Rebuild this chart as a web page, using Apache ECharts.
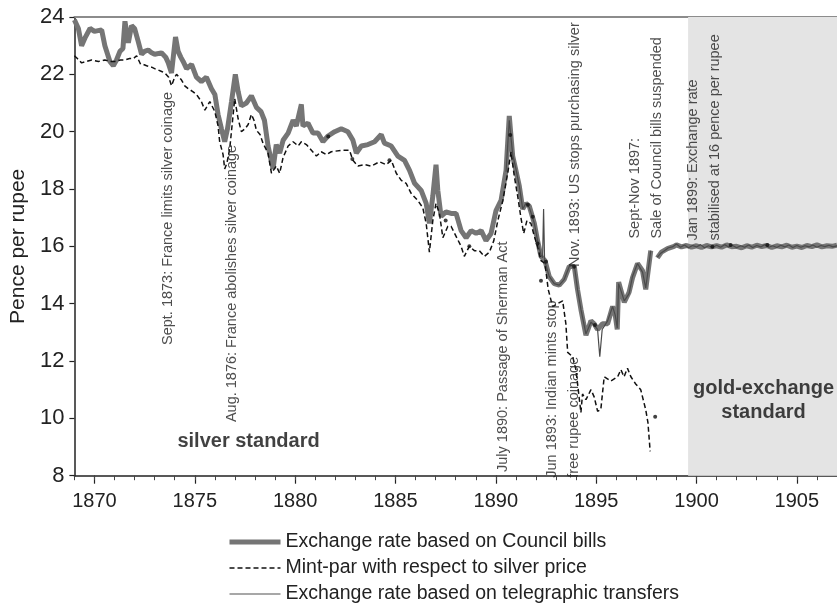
<!DOCTYPE html>
<html>
<head>
<meta charset="utf-8">
<script src="https://cdn.jsdelivr.net/npm/echarts@6/dist/echarts.min.js"></script>
<style>
  html, body { margin: 0; padding: 0; background: #fff; }
  #chart { width: 837px; height: 608px; }
</style>
</head>
<body>
<div id="chart"></div>
<script>
// exchange rate based on Council bills [year, pence]
const councilBills = [
  [1869.0, 23.9], [1869.2, 23.6], [1869.36, 23.0], [1869.55, 23.3], [1869.78, 23.6], [1870.0, 23.5],
  [1870.36, 23.55], [1870.52, 23.0], [1870.77, 22.45], [1870.94, 22.3], [1871.1, 22.5], [1871.27, 22.8],
  [1871.42, 22.9], [1871.52, 23.85], [1871.69, 23.1], [1871.85, 23.7], [1872.0, 23.6], [1872.18, 23.15],
  [1872.35, 22.7], [1872.5, 22.8], [1872.68, 22.85], [1872.85, 22.75], [1873.0, 22.7], [1873.34, 22.75],
  [1873.55, 22.6], [1873.68, 22.4], [1873.84, 22.05], [1874.04, 23.3], [1874.17, 22.8], [1874.3, 22.6],
  [1874.42, 22.45], [1874.59, 22.2], [1874.84, 22.35], [1875.08, 21.9], [1875.33, 21.75], [1875.58, 21.9],
  [1875.83, 21.5], [1876.0, 21.3], [1876.16, 20.6], [1876.33, 20.1], [1876.49, 19.65], [1876.63, 20.1],
  [1876.83, 21.05], [1877.02, 22.0], [1877.16, 21.4], [1877.32, 20.9], [1877.57, 21.0], [1877.82, 21.25],
  [1878.07, 20.85], [1878.3, 20.7], [1878.47, 20.4], [1878.65, 19.5], [1878.9, 18.7], [1879.06, 19.55],
  [1879.23, 19.25], [1879.4, 19.7], [1879.65, 19.95], [1879.9, 20.4], [1880.06, 20.2], [1880.31, 20.95],
  [1880.39, 20.2], [1880.64, 20.3], [1880.89, 19.95], [1881.14, 19.95], [1881.39, 19.65], [1881.64, 19.85],
  [1881.97, 20.0], [1882.3, 20.1], [1882.63, 20.0], [1882.88, 19.7], [1883.05, 19.25], [1883.3, 19.5],
  [1883.63, 19.55], [1883.96, 19.65], [1884.29, 19.9], [1884.45, 19.6], [1884.79, 19.5], [1885.12, 19.15],
  [1885.45, 19.0], [1885.7, 18.65], [1885.95, 18.2], [1886.28, 17.95], [1886.53, 17.5], [1886.69, 16.8],
  [1886.86, 17.75], [1887.02, 18.85], [1887.11, 17.95], [1887.27, 17.05], [1887.52, 17.2], [1887.77, 17.15],
  [1888.02, 17.15], [1888.27, 16.55], [1888.52, 16.3], [1888.77, 16.55], [1889.02, 16.45], [1889.27, 16.55],
  [1889.51, 16.2], [1889.76, 16.45], [1890.01, 17.25], [1890.26, 17.6], [1890.51, 18.65], [1890.67, 20.55],
  [1890.84, 19.15], [1891.0, 18.65], [1891.17, 18.1], [1891.34, 17.3], [1891.5, 17.5], [1891.67, 17.4],
  [1891.92, 16.8], [1892.08, 16.2], [1892.25, 15.65], [1892.45, 15.5], [1892.66, 14.95], [1892.91, 14.7],
  [1893.16, 14.65], [1893.41, 14.85], [1893.66, 15.3], [1893.91, 15.3], [1894.07, 14.5], [1894.24, 13.8],
  [1894.49, 12.9], [1894.74, 13.4], [1894.9, 13.3], [1895.07, 13.1], [1895.32, 13.3], [1895.57, 13.3],
  [1895.82, 13.9], [1895.95, 13.6], [1896.05, 13.1], [1896.12, 14.75], [1896.4, 14.05], [1896.64, 14.4],
  [1896.81, 14.9], [1897.06, 15.4], [1897.31, 15.15], [1897.47, 14.5], [1897.72, 15.85], [1897.85, null],
  [1898.05, 15.6], [1898.25, 15.8], [1898.55, 15.92], [1898.88, 16.0], [1899.0, 16.05], [1899.25, 15.98],
  [1899.5, 16.03], [1899.75, 15.97], [1900.0, 16.02], [1900.25, 15.96], [1900.5, 16.03], [1900.75, 15.98],
  [1901.0, 16.02], [1901.25, 15.97], [1901.5, 16.05], [1901.75, 15.99], [1902.0, 16.0], [1902.25, 15.95],
  [1902.5, 16.02], [1902.75, 15.97], [1903.0, 16.04], [1903.25, 15.99], [1903.5, 16.03], [1903.75, 15.96],
  [1904.0, 16.02], [1904.25, 15.98], [1904.5, 16.04], [1904.75, 15.97], [1905.0, 16.01], [1905.25, 15.96],
  [1905.5, 16.03], [1905.75, 15.99], [1906.0, 16.05], [1906.25, 15.98], [1906.5, 16.02], [1906.75, 16.0],
  [1907.0, 16.04]
];

// mint-par with respect to silver price
const mintPar = [
  [1869.0, 22.65], [1869.15, 22.55], [1869.36, 22.4], [1869.6, 22.45], [1869.86, 22.5], [1870.2, 22.45],
  [1870.52, 22.5], [1870.8, 22.45], [1871.02, 22.45], [1871.3, 22.5], [1871.52, 22.5], [1871.75, 22.55],
  [1871.94, 22.55], [1872.1, 22.65], [1872.18, 22.6], [1872.3, 22.35], [1872.43, 22.35], [1872.6, 22.3],
  [1872.85, 22.25], [1873.0, 22.2], [1873.18, 22.15], [1873.35, 22.1], [1873.51, 22.05], [1873.7, 21.9],
  [1873.84, 21.6], [1874.0, 21.9], [1874.09, 22.0], [1874.34, 21.8], [1874.5, 21.6], [1874.67, 21.5],
  [1874.9, 21.4], [1875.08, 21.3], [1875.33, 21.05], [1875.5, 20.75], [1875.75, 21.05], [1876.0, 20.7],
  [1876.16, 20.2], [1876.24, 19.65], [1876.41, 19.2], [1876.49, 18.7], [1876.6, 18.9], [1876.74, 19.4],
  [1876.99, 21.15], [1877.16, 20.45], [1877.32, 20.0], [1877.5, 20.1], [1877.66, 20.25], [1877.82, 20.6],
  [1877.95, 20.4], [1878.07, 20.05], [1878.25, 19.9], [1878.4, 19.6], [1878.65, 19.25], [1878.82, 18.55],
  [1879.06, 18.8], [1879.23, 18.55], [1879.4, 19.1], [1879.65, 19.5], [1879.9, 19.65], [1880.15, 19.5],
  [1880.31, 19.65], [1880.56, 19.55], [1880.81, 19.35], [1881.06, 19.15], [1881.3, 19.3], [1881.55, 19.2],
  [1881.8, 19.3], [1882.3, 19.35], [1882.71, 19.35], [1882.88, 19.0], [1883.13, 18.8], [1883.46, 18.85],
  [1883.79, 18.8], [1884.2, 18.95], [1884.54, 18.85], [1884.79, 19.0], [1885.04, 18.55], [1885.29, 18.3],
  [1885.53, 18.2], [1885.78, 17.85], [1886.11, 17.6], [1886.36, 17.35], [1886.53, 16.8], [1886.69, 15.8],
  [1886.86, 16.9], [1887.02, 17.5], [1887.19, 17.15], [1887.36, 16.3], [1887.61, 16.7], [1887.77, 16.7],
  [1888.02, 16.35], [1888.27, 16.0], [1888.43, 15.65], [1888.68, 16.0], [1888.93, 15.85], [1889.18, 15.85],
  [1889.43, 15.65], [1889.68, 15.8], [1889.9, 16.2], [1890.1, 16.9], [1890.35, 17.6], [1890.59, 18.55],
  [1890.76, 19.3], [1890.92, 18.45], [1891.09, 17.75], [1891.25, 17.0], [1891.39, 16.45], [1891.55, 16.9],
  [1891.75, 16.8], [1891.92, 16.35], [1892.08, 16.0], [1892.25, 15.5], [1892.45, 15.4], [1892.61, 14.5],
  [1892.83, 13.9], [1893.08, 14.0], [1893.33, 14.1], [1893.49, 13.3], [1893.58, 12.3], [1893.83, 12.15],
  [1893.99, 11.7], [1894.24, 10.2], [1894.32, 10.85], [1894.49, 10.65], [1894.74, 11.0], [1894.9, 10.75],
  [1895.07, 10.25], [1895.23, 10.3], [1895.4, 11.45], [1895.73, 11.3], [1896.07, 11.45], [1896.23, 11.7],
  [1896.39, 11.45], [1896.56, 11.75], [1896.73, 11.45], [1896.97, 11.2], [1897.22, 11.0], [1897.47, 10.3],
  [1897.58, 9.85], [1897.69, 8.85]
];

// exchange rate based on telegraphic transfers
const telegraphic = [
  [1890.51, 18.6], [1890.67, 20.4], [1890.84, 19.2], [1891.0, 18.7], [1891.17, 18.1], [1891.34, 17.3],
  [1891.5, 17.5], [1891.67, 17.35], [1891.92, 16.8], [1892.08, 16.2], [1892.25, 15.7], [1892.33, 15.6],
  [1892.38, 17.3], [1892.43, 15.5], [1892.66, 14.95], [1892.91, 14.7], [1893.16, 14.65], [1893.41, 14.85],
  [1893.66, 15.3], [1893.91, 15.35], [1894.07, 14.5], [1894.24, 13.8], [1894.49, 12.95], [1894.74, 13.35],
  [1894.9, 13.25], [1895.07, 13.1], [1895.18, 12.15], [1895.3, 13.1], [1895.57, 13.4], [1895.82, 13.9],
  [1895.95, 13.6], [1896.05, 13.15], [1896.12, 14.7], [1896.4, 14.1], [1896.64, 14.35], [1896.81, 14.95],
  [1897.06, 15.4], [1897.31, 15.1], [1897.47, 14.55], [1897.72, 15.85], [1897.85, null], [1898.05, 15.62],
  [1898.2, 15.75], [1898.4, 15.85], [1898.6, 15.95], [1898.8, 15.98], [1899.0, 16.08], [1899.2, 15.97],
  [1899.4, 16.05], [1899.6, 15.95], [1899.8, 16.03], [1900.0, 15.98], [1900.2, 16.06], [1900.4, 15.95],
  [1900.6, 16.02], [1900.8, 15.96], [1901.0, 16.04], [1901.2, 15.97], [1901.4, 16.06], [1901.6, 15.98],
  [1901.8, 16.03], [1902.0, 15.95], [1902.2, 16.02], [1902.4, 15.97], [1902.6, 16.05], [1902.8, 15.96],
  [1903.0, 16.03], [1903.2, 15.98], [1903.4, 16.06], [1903.6, 15.97], [1903.8, 16.02], [1904.0, 15.96],
  [1904.2, 16.04], [1904.4, 15.98], [1904.6, 16.05], [1904.8, 15.96], [1905.0, 16.03], [1905.2, 15.97],
  [1905.4, 16.02], [1905.6, 15.98], [1905.8, 16.05], [1906.0, 15.97], [1906.2, 16.03], [1906.4, 15.99],
  [1906.6, 16.04], [1906.8, 15.98], [1907.0, 16.02]
];

// isolated black dots
const dots = [
  [1881.65, 19.83], [1882.85, 19.05], [1884.7, 19.0], [1887.5, 16.9], [1888.68, 16.0], [1890.72, 19.88],
  [1891.6, 17.45], [1891.84, 17.03], [1892.08, 16.1], [1892.5, 15.46], [1892.25, 14.8], [1893.9, 15.29],
  [1894.94, 13.26], [1897.94, 10.06], [1900.79, 15.99], [1901.7, 16.05], [1903.53, 16.05]
];

// event notes: [year, value at the foot of the text, text]
const events = [
  [1873.69, 12.56, 'Sept. 1873: France limits silver coinage'],
  [1876.83, 9.87, 'Aug. 1876: France abolishes silver coinage'],
  [1890.34, 8.13, 'July 1890: Passage of Sherman Act'],
  [1893.36, 7.93, 'Jun 1893: Indian mints stop\nfree rupee coinage'],
  [1893.93, 15.28, 'Nov. 1893: US stops purchasing silver'],
  [1897.47, 16.27, 'Sept-Nov 1897:\nSale of Council bills suspended'],
  [1900.38, 16.2, 'Jan 1899: Exchange rate\nstabilised at 16 pence per rupee']
];

const regimes = [
  [1877.68, 9.18, 'silver standard'],
  [1903.34, 10.64, 'gold-exchange\nstandard']
];

const goldStart = 1899.58;
const xTicks = [1870, 1875, 1880, 1885, 1890, 1895, 1900, 1905];
const names = [
  'Exchange rate based on Council bills',
  'Mint-par with respect to silver price',
  'Exchange rate based on telegraphic transfers'
];

const font = '"Liberation Sans", Arial, sans-serif';
const chart = echarts.init(document.getElementById('chart'));

chart.setOption({
  animation: false,
  textStyle: { fontFamily: font },
  grid: { left: 72.7, top: 17, right: 0, bottom: 132.3, containLabel: false },
  legend: {
    orient: 'vertical',
    left: 227,
    top: 532,
    padding: 0,
    itemWidth: 51,
    itemHeight: 14,
    itemGap: 6,
    itemStyle: { opacity: 0 },
    textStyle: { fontSize: 19.5, color: '#222', fontFamily: font },
    data: [
      { name: names[0], lineStyle: { color: '#757575', width: 5 } },
      { name: names[1], lineStyle: { color: '#111', width: 1.5, type: [5, 3] } },
      { name: names[2], lineStyle: { color: '#8a8a8a', width: 1.5 } }
    ]
  },
  xAxis: [
    {
      type: 'value', min: 1869, max: 1907,
      axisLine: { lineStyle: { color: '#222', width: 1.5 } },
      axisTick: { show: true, customValues: xTicks, length: 8, lineStyle: { color: '#222', width: 1.2 } },
      axisLabel: {
        customValues: xTicks, fontSize: 20, color: '#222', margin: 16, fontFamily: font,
        formatter: v => String(v)
      },
      splitLine: { show: false }
    },
    {
      type: 'value', min: 1869, max: 1907, position: 'top',
      axisLine: { show: true, lineStyle: { color: '#8c8c8c', width: 2 } },
      axisTick: { show: false }, axisLabel: { show: false }, splitLine: { show: false }
    },
    {
      type: 'value', min: 1869, max: 1907, interval: 1, position: 'bottom',
      axisLine: { show: false },
      axisTick: { show: true, length: 4.5, lineStyle: { color: '#444', width: 1 } },
      axisLabel: { show: false }, splitLine: { show: false }
    }
  ],
  yAxis: {
    type: 'value', min: 8, max: 24, interval: 2,
    name: 'Pence per rupee', nameLocation: 'middle', nameRotate: 90, nameGap: 45,
    nameTextStyle: { fontSize: 21, color: '#222', fontFamily: font },
    axisLine: { show: true, lineStyle: { color: '#222', width: 1.5 } },
    axisTick: { show: true, length: 5, lineStyle: { color: '#222', width: 1.2 } },
    axisLabel: { fontSize: 22, color: '#222', margin: 10, fontFamily: font },
    splitLine: { show: false }
  },
  series: [
    {
      name: names[0], type: 'line', data: councilBills, symbol: 'none', showSymbol: false,
      connectNulls: false, z: 2,
      lineStyle: { color: '#757575', width: 5 },
      itemStyle: { color: '#757575' },
      markArea: {
        silent: true,
        itemStyle: { color: '#e4e4e4' },
        data: [[{ xAxis: goldStart }, { xAxis: 1907 }]]
      }
    },
    {
      name: names[1], type: 'line', data: mintPar, symbol: 'none', showSymbol: false, z: 3,
      lineStyle: { color: '#111', width: 1.5, type: [5, 3] },
      itemStyle: { color: '#111' }
    },
    {
      name: names[2], type: 'line', data: telegraphic, symbol: 'none', showSymbol: false,
      connectNulls: false, z: 4,
      lineStyle: { color: '#4a4a4a', width: 1.2 },
      itemStyle: { color: '#4a4a4a' }
    },
    {
      type: 'scatter', data: dots, symbolSize: 4, z: 5, silent: true,
      itemStyle: { color: '#111' }
    },
    {
      type: 'scatter', data: events, symbolSize: 1, z: 6, silent: true, clip: false,
      itemStyle: { color: 'transparent' },
      label: {
        show: true, position: 'inside', rotate: 90, align: 'left', verticalAlign: 'middle',
        fontSize: 14.5, lineHeight: 22, color: '#222', fontFamily: font,
        formatter: p => p.value[2]
      }
    },
    {
      type: 'scatter', data: regimes, symbolSize: 1, z: 6, silent: true,
      itemStyle: { color: 'transparent' },
      label: {
        show: true, position: 'inside', align: 'center', verticalAlign: 'middle',
        fontSize: 20, fontWeight: 'bold', lineHeight: 24, color: '#111', fontFamily: font,
        formatter: p => p.value[2]
      }
    }
  ]
});

window.addEventListener('resize', () => chart.resize());
</script>
</body>
</html>
